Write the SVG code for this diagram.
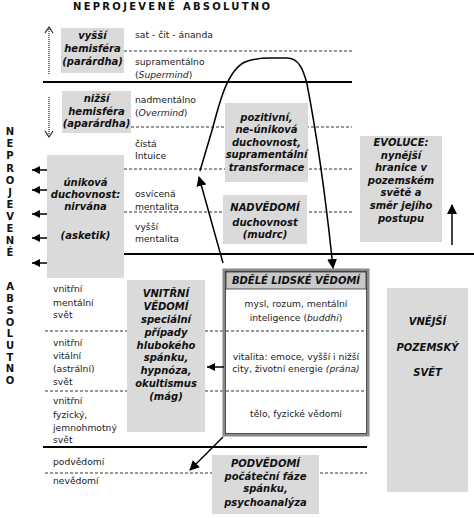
<svg xmlns="http://www.w3.org/2000/svg" width="474" height="518" viewBox="0 0 474 518">
<style>
.t{font-family:"DejaVu Sans",Verdana,sans-serif;font-size:9.2px;fill:#222}
.b{font-family:"DejaVu Sans",Verdana,sans-serif;font-size:10px;font-weight:bold;font-style:italic;fill:#111;text-anchor:middle}
.v{font-family:"DejaVu Sans",Verdana,sans-serif;font-size:10px;font-weight:bold;fill:#111;text-anchor:middle}
.g{fill:#dadada;stroke:none}
.d{stroke:#333;stroke-width:1;stroke-dasharray:3,2;fill:none}
.s{stroke:#000;stroke-width:2;fill:none}
.a{stroke:#000;stroke-width:1.5;fill:none}
.i{font-style:italic}
</style>
<defs>
<marker id="ah" markerWidth="10" markerHeight="10" refX="9" refY="5" orient="auto" markerUnits="userSpaceOnUse">
<path d="M0,0 L10,5 L0,10 Z" fill="#000"/>
</marker>
<marker id="ahs" markerWidth="8" markerHeight="8" refX="8" refY="4" orient="auto" markerUnits="userSpaceOnUse">
<path d="M0,0 L8,4 L0,8 Z" fill="#000"/>
</marker>
</defs>

<text x="73" y="10" font-family="DejaVu Sans,Verdana,sans-serif" font-size="10" font-weight="bold" fill="#111" textLength="197" lengthAdjust="spacing">NEPROJEVENÉ  ABSOLUTNO</text>

<text class="v"><tspan x="10" y="135">N</tspan><tspan x="10" y="147">E</tspan><tspan x="10" y="159">P</tspan><tspan x="10" y="171.5">R</tspan><tspan x="10" y="184">O</tspan><tspan x="10" y="196">J</tspan><tspan x="10" y="208">E</tspan><tspan x="10" y="220">V</tspan><tspan x="10" y="232">E</tspan><tspan x="10" y="244">N</tspan><tspan x="10" y="256">É</tspan></text>
<text class="v"><tspan x="10" y="290">A</tspan><tspan x="10" y="302">B</tspan><tspan x="10" y="313.5">S</tspan><tspan x="10" y="325.5">O</tspan><tspan x="10" y="337">L</tspan><tspan x="10" y="349">U</tspan><tspan x="10" y="360.5">T</tspan><tspan x="10" y="372">N</tspan><tspan x="10" y="384">O</tspan></text>

<g id="lines">
<line class="d" x1="124" y1="51" x2="352" y2="51"/>
<line class="s" x1="43" y1="82" x2="352" y2="82"/>
<line class="d" x1="131" y1="127" x2="352" y2="127"/>
<line class="d" x1="124" y1="169" x2="352" y2="169"/>
<line class="d" x1="124" y1="212" x2="352" y2="212"/>
<line class="s" x1="124" y1="254" x2="474" y2="254"/>
<line class="d" x1="45" y1="331" x2="368" y2="331"/>
<line class="d" x1="45" y1="391" x2="368" y2="391"/>
<line class="s" x1="43" y1="447" x2="367" y2="447"/>
<line class="d" x1="45" y1="473" x2="367" y2="473"/>
</g>

<g id="labels">
<text class="t" x="135" y="38">sat - čit - ánanda</text>
<text class="t" x="135" y="64.5">supramentálno</text>
<text class="t" x="135" y="77.5">(<tspan class="i">Supermind</tspan>)</text>
<text class="t" x="135" y="102.5">nadmentálno</text>
<text class="t" x="135" y="115.5">(<tspan class="i">Overmind</tspan>)</text>
<text class="t" x="135" y="146.5">čistá</text>
<text class="t" x="135" y="158.5">Intuice</text>
<text class="t" x="135" y="196.5">osvícená</text>
<text class="t" x="135" y="209.5">mentalita</text>
<text class="t" x="135" y="230">vyšší</text>
<text class="t" x="135" y="242">mentalita</text>
<text class="t" x="53" y="291.5">vnitřní</text>
<text class="t" x="53" y="305.5">mentální</text>
<text class="t" x="53" y="317.5">svět</text>
<text class="t" x="53" y="345.5">vnitřní</text>
<text class="t" x="53" y="358.5">vitální</text>
<text class="t" x="53" y="371.5">(astrální)</text>
<text class="t" x="53" y="384.5">svět</text>
<text class="t" x="53" y="403.5">vnitřní</text>
<text class="t" x="53" y="417.5">fyzický,</text>
<text class="t" x="53" y="430.5">jemnohmotný</text>
<text class="t" x="53" y="442.5">svět</text>
<text class="t" x="53" y="464.5">podvědomí</text>
<text class="t" x="53" y="483.5">nevědomí</text>
</g>

<g id="vyssi">
<rect class="g" x="61" y="28" width="63" height="45"/>
<text class="b" x="92.5" y="38.5">vyšší</text>
<text class="b" x="92.5" y="51.5">hemisféra</text>
<text class="b" x="92.5" y="64.5">(parárdha)</text>
</g>
<g id="nizsi">
<rect class="g" x="62" y="91" width="69" height="42"/>
<text class="b" x="96.5" y="101.5">nižší</text>
<text class="b" x="96.5" y="114.5">hemisféra</text>
<text class="b" x="96.5" y="126.5">(aparárdha)</text>
</g>
<g id="unikova">
<rect class="g" x="47" y="155" width="77" height="123"/>
<text class="b" x="85.5" y="185.5">úniková</text>
<text class="b" x="85.5" y="197.5">duchovnost:</text>
<text class="b" x="85.5" y="209.5">nirvána</text>
<text class="b" x="85.5" y="238.5">(asketik)</text>
</g>
<g id="pozitivni">
<rect class="g" x="225" y="103" width="83" height="79"/>
<text class="b" x="266.5" y="120.5">pozitivní,</text>
<text class="b" x="266.5" y="133">ne-úniková</text>
<text class="b" x="266.5" y="145.5">duchovnost,</text>
<text class="b" x="266.5" y="158">supramentální</text>
<text class="b" x="266.5" y="171">transformace</text>
</g>
<g id="nadvedomi">
<rect class="g" x="223" y="195" width="84" height="49"/>
<text class="b" x="265" y="210.5">NADVĚDOMÍ</text>
<text class="b" x="265" y="225.5">duchovnost</text>
<text class="b" x="265" y="237.5">(mudrc)</text>
</g>
<g id="evoluce">
<rect class="g" x="360" y="136" width="82" height="106"/>
<text class="b" x="401" y="146" font-size="9.5">EVOLUCE:</text>
<text class="b" x="401" y="158.5" font-size="9.5">nynější</text>
<text class="b" x="401" y="171" font-size="9.5">hranice v</text>
<text class="b" x="401" y="183.5" font-size="9.5">pozemském</text>
<text class="b" x="401" y="196" font-size="9.5">světě a</text>
<text class="b" x="401" y="209" font-size="9.5">směr jejího</text>
<text class="b" x="401" y="222" font-size="9.5">postupu</text>
</g>
<g id="vnitrni">
<rect class="g" x="127" y="280" width="78" height="152"/>
<text class="b" x="166" y="296.5" font-size="9.2">VNITŘNÍ</text>
<text class="b" x="166" y="310" font-size="9.2">VĚDOMÍ</text>
<text class="b" x="166" y="323" font-size="9.2">speciální</text>
<text class="b" x="166" y="336" font-size="9.2">případy</text>
<text class="b" x="166" y="348.5" font-size="9.2">hlubokého</text>
<text class="b" x="166" y="361" font-size="9.2">spánku,</text>
<text class="b" x="166" y="373.5" font-size="9.2">hypnóza,</text>
<text class="b" x="166" y="386.5" font-size="9.2">okultismus</text>
<text class="b" x="166" y="400" font-size="9.2">(mág)</text>
</g>
<g id="bdele">
<rect x="224" y="270" width="144" height="165" fill="#fff" stroke="#888" stroke-width="3"/>
<rect x="225.5" y="271.5" width="141" height="162" fill="none" stroke="#333" stroke-width="0.8"/>
<rect x="226" y="272" width="140" height="17" fill="#c8c8c8" stroke="#333" stroke-width="0.8"/>
<text class="b" x="296" y="284" font-size="9">BDĚLÉ LIDSKÉ VĚDOMÍ</text>
<line class="d" x1="226" y1="331" x2="366" y2="331"/>
<line class="d" x1="226" y1="391" x2="366" y2="391"/>
<text class="t" x="296" y="306.5" text-anchor="middle">mysl, rozum, mentální</text>
<text class="t" x="296" y="320.5" text-anchor="middle">inteligence (<tspan class="i">buddhi</tspan>)</text>
<text class="t" x="296" y="359.5" text-anchor="middle">vitalita: emoce, vyšší i nižší</text>
<text class="t" x="296" y="371.5" text-anchor="middle">city, životní energie <tspan class="i">(prána)</tspan></text>
<text class="t" x="296" y="416.5" text-anchor="middle">tělo, fyzické vědomí</text>
</g>
<g id="podvedomi">
<rect class="g" x="212" y="455" width="107" height="59"/>
<text class="b" x="265.5" y="466.5">PODVĚDOMÍ</text>
<text class="b" x="265.5" y="479.5">počáteční fáze</text>
<text class="b" x="265.5" y="491.5">spánku,</text>
<text class="b" x="265.5" y="505.5">psychoanalýza</text>
</g>
<g id="vnejsi">
<rect class="g" x="387" y="288" width="81" height="204"/>
<text class="b" x="427.5" y="325" font-size="8.5">VNĚJŠÍ</text>
<text class="b" x="427.5" y="351" font-size="8.5">POZEMSKÝ</text>
<text class="b" x="427.5" y="376" font-size="8.5">SVĚT</text>
</g>

<g id="connectors">
<line x1="49" y1="29" x2="49" y2="75" stroke="#222" stroke-width="1.2" stroke-dasharray="1,1"/>
<path d="M45,33 L49,27 L53,33" fill="none" stroke="#222" stroke-width="1.2"/>
<line x1="49" y1="97" x2="49" y2="135" stroke="#222" stroke-width="1.2" stroke-dasharray="1,1"/>
<path d="M45,131 L49,137 L53,131" fill="none" stroke="#222" stroke-width="1.2"/>
<line class="a" x1="47" y1="170" x2="32" y2="170" marker-end="url(#ahs)"/>
<line class="a" x1="47" y1="190" x2="32" y2="190" marker-end="url(#ahs)"/>
<line class="a" x1="47" y1="214" x2="32" y2="214" marker-end="url(#ahs)"/>
<line class="a" x1="47" y1="238" x2="32" y2="238" marker-end="url(#ahs)"/>
<line class="a" x1="47" y1="263" x2="32" y2="263" marker-end="url(#ahs)"/>
<line class="a" x1="452" y1="245" x2="452" y2="205" marker-end="url(#ah)"/>
<line class="a" x1="223" y1="263" x2="199" y2="177" marker-end="url(#ah)"/>
<path class="a" d="M200,171 L213,127 C220,100 228,70 245,62 Q255,58 270,58 L287,58 C298,58 303,68 307,84 C312,110 324,180 333,268" marker-end="url(#ah)"/>
<line class="a" x1="224" y1="367" x2="207" y2="367" marker-end="url(#ahs)"/>
<line class="a" x1="223" y1="437" x2="190" y2="470" marker-end="url(#ah)"/>
</g>
</svg>
